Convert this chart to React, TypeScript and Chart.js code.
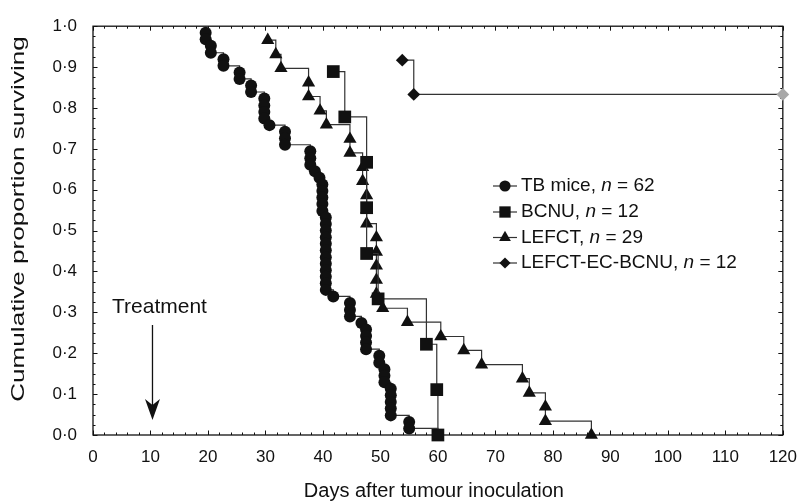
import React, { useEffect, useRef } from 'react';
import { Chart, registerables } from 'chart.js';

Chart.register(...registerables);

const FONT = '"Liberation Sans", Arial, Helvetica, sans-serif';

// ---------- data ----------
const xMin = 0;
const xMax = 120;
const xStep = 10;
const yMin = 0;
const yMax = 1;
const yStep = 0.1;

const xTitle = 'Days after tumour inoculation';
const yTitle = 'Cumulative proportion surviving';
const treatmentLabel = 'Treatment';
const treatmentDay = 10;

const tbDays = [
  19.6, 19.6, 20.5, 20.5, 22.7, 22.7, 25.5, 25.5, 27.5, 27.5,
  29.8, 29.8, 29.8, 29.8, 30.7, 33.4, 33.4, 33.4, 37.8, 37.8,
  37.8, 38.6, 39.4, 39.9, 39.9, 39.9, 39.9, 39.9, 40.5, 40.5,
  40.5, 40.5, 40.5, 40.5, 40.5, 40.5, 40.5, 40.5, 40.5, 40.5,
  41.8, 44.7, 44.7, 44.7, 46.7, 47.5, 47.5, 47.5, 47.5, 49.8,
  49.8, 50.7, 50.7, 50.7, 51.8, 51.8, 51.8, 51.8, 51.8, 55.0,
  55.0, 60.0,
];
const tbSurv = [
  0.984, 0.968, 0.952, 0.935, 0.919, 0.903, 0.887, 0.871, 0.855, 0.839,
  0.823, 0.806, 0.790, 0.774, 0.758, 0.742, 0.726, 0.710, 0.694, 0.677,
  0.661, 0.645, 0.629, 0.613, 0.597, 0.581, 0.565, 0.548, 0.532, 0.516,
  0.500, 0.484, 0.468, 0.452, 0.435, 0.419, 0.403, 0.387, 0.371, 0.355,
  0.339, 0.323, 0.306, 0.290, 0.274, 0.258, 0.242, 0.226, 0.210, 0.194,
  0.177, 0.161, 0.145, 0.129, 0.113, 0.097, 0.081, 0.065, 0.048, 0.032,
  0.016, 0.0,
];

const bcnuDays = [41.8, 43.8, 47.6, 47.6, 47.6, 49.6, 58.0, 59.8, 60.0];
const bcnuSurv = [0.889, 0.778, 0.667, 0.556, 0.444, 0.333, 0.222, 0.111, 0.0];

const lefctDays = [
  30.4, 31.8, 32.7, 37.5, 37.5, 39.5, 40.6, 44.7, 44.7, 46.9,
  46.9, 47.6, 47.6, 47.6, 49.3, 49.3, 49.3, 49.3, 49.3, 50.4,
  54.7, 60.5, 64.5, 67.6, 74.7, 75.9, 78.7, 78.7, 86.7,
];
const lefctSurv = [
  0.966, 0.931, 0.897, 0.862, 0.828, 0.793, 0.759, 0.724, 0.690, 0.655,
  0.621, 0.586, 0.552, 0.517, 0.483, 0.448, 0.414, 0.379, 0.345, 0.310,
  0.276, 0.241, 0.207, 0.172, 0.138, 0.103, 0.069, 0.034, 0.0,
];

const ecDays = [53.8, 55.8, 120];
const ecSurv = [0.917, 0.833, 0.833];
const ecCensored = [false, false, true];

const seriesNames = ['TB mice', 'BCNU', 'LEFCT', 'LEFCT-EC-BCNU'];
const seriesN = [62, 12, 29, 12];
const seriesShapes = ['circle', 'rect', 'triangle', 'rectRot'];
const seriesRadius = [6, 9, 7.6, 6.4];

// ---------- helpers ----------
const MARK = '#111111';
const LINE = '#333333';
const CENSOR = '#a8a8a8';

function toPoints(days: number[], surv: number[]) {
  return days.map((d, i) => ({ x: d, y: surv[i] }));
}

function drawMarker(ctx: CanvasRenderingContext2D, shape: string, x: number, y: number, r: number) {
  ctx.beginPath();
  if (shape === 'circle') {
    ctx.arc(x, y, r, 0, Math.PI * 2);
  } else if (shape === 'rect') {
    const s = r * Math.SQRT1_2;
    ctx.rect(x - s, y - s, 2 * s, 2 * s);
  } else if (shape === 'triangle') {
    ctx.moveTo(x, y - r);
    ctx.lineTo(x + 0.866 * r, y + 0.5 * r);
    ctx.lineTo(x - 0.866 * r, y + 0.5 * r);
    ctx.closePath();
  } else {
    ctx.moveTo(x - r, y);
    ctx.lineTo(x, y - r);
    ctx.lineTo(x + r, y);
    ctx.lineTo(x, y + r);
    ctx.closePath();
  }
  ctx.fill();
}

const framePlugin = {
  id: 'frameTicks',
  beforeDatasetsDraw(chart: any) {
    const ctx: CanvasRenderingContext2D = chart.ctx;
    const { left, right, top, bottom } = chart.chartArea;
    const xs = chart.scales.x;
    const ys = chart.scales.y;
    ctx.save();
    ctx.strokeStyle = '#111';
    ctx.lineWidth = 1.3;
    ctx.strokeRect(left, top, right - left, bottom - top);
    ctx.lineWidth = 1;
    ctx.beginPath();
    for (let d = xMin; d <= xMax + 1e-9; d += 2) {
      const px = Math.round(xs.getPixelForValue(d)) + 0.5;
      const len = Math.abs(d % 10) < 1e-9 ? 4.5 : 2.5;
      ctx.moveTo(px, bottom);
      ctx.lineTo(px, bottom - len);
      ctx.moveTo(px, top);
      ctx.lineTo(px, top + len);
    }
    for (let k = 0; k <= 40; k++) {
      const v = k * 0.025;
      const py = Math.round(ys.getPixelForValue(v)) + 0.5;
      const len = k % 4 === 0 ? 4.5 : 2.5;
      ctx.moveTo(left, py);
      ctx.lineTo(left + len, py);
      ctx.moveTo(right, py);
      ctx.lineTo(right - len, py);
    }
    ctx.stroke();
    ctx.restore();
  },
  afterDatasetsDraw(chart: any) {
    const ctx: CanvasRenderingContext2D = chart.ctx;
    const xs = chart.scales.x;
    const { left, right } = chart.chartArea;
    ctx.save();

    // Legend
    const lx = 505;
    const textX = 521;
    const rowY = [186, 212, 237.5, 263];
    ctx.textBaseline = 'middle';
    ctx.textAlign = 'left';
    for (let i = 0; i < seriesNames.length; i++) {
      const y = rowY[i];
      ctx.strokeStyle = LINE;
      ctx.lineWidth = 1.2;
      ctx.beginPath();
      ctx.moveTo(lx - 12, y);
      ctx.lineTo(lx + 12, y);
      ctx.stroke();
      ctx.fillStyle = MARK;
      const lr = seriesShapes[i] === 'rect' ? 8 : seriesShapes[i] === 'triangle' ? 6.8 : 5.6;
      drawMarker(ctx, seriesShapes[i], lx, y, lr);
      ctx.fillStyle = '#111';
      let x = textX;
      const part1 = `${seriesNames[i]}, `;
      ctx.font = `19px ${FONT}`;
      ctx.fillText(part1, x, y);
      x += ctx.measureText(part1).width;
      ctx.font = `italic 19px ${FONT}`;
      ctx.fillText('n', x, y);
      x += ctx.measureText('n').width;
      ctx.font = `19px ${FONT}`;
      ctx.fillText(` = ${seriesN[i]}`, x, y);
    }

    // Treatment annotation
    const ax = xs.getPixelForValue(treatmentDay) + 2;
    ctx.font = `21px ${FONT}`;
    ctx.textAlign = 'left';
    ctx.textBaseline = 'alphabetic';
    ctx.fillStyle = '#111';
    ctx.fillText(treatmentLabel, 112, 313);
    ctx.strokeStyle = '#111';
    ctx.lineWidth = 1.3;
    ctx.beginPath();
    ctx.moveTo(ax, 325);
    ctx.lineTo(ax, 410);
    ctx.stroke();
    ctx.beginPath();
    ctx.moveTo(ax, 420);
    ctx.lineTo(ax - 7.5, 399);
    ctx.lineTo(ax, 405);
    ctx.lineTo(ax + 7.5, 399);
    ctx.closePath();
    ctx.fill();

    // Axis titles
    ctx.fillStyle = '#111';
    ctx.textAlign = 'center';
    ctx.textBaseline = 'middle';
    ctx.font = `20px ${FONT}`;
    ctx.fillText(xTitle, (left + right) / 2 - 4, 491);
    ctx.save();
    ctx.translate(19, 219);
    ctx.rotate(-Math.PI / 2);
    ctx.scale(1.45, 1);
    ctx.font = `18px ${FONT}`;
    ctx.fillText(yTitle, 0, 0);
    ctx.restore();

    ctx.restore();
  },
};

export default function App() {
  const ref = useRef<HTMLCanvasElement | null>(null);
  useEffect(() => {
    if (!ref.current) return;
    const common = {
      borderColor: LINE,
      borderWidth: 1.2,
      stepped: 'before' as const,
      fill: false,
      pointBorderWidth: 0,
      pointHoverRadius: 0,
      clip: false as const,
      tension: 0,
    };
    const chart = new Chart(ref.current, {
      type: 'line',
      data: {
        datasets: [
          {
            ...common,
            label: seriesNames[0],
            data: toPoints(tbDays, tbSurv),
            pointStyle: seriesShapes[0] as any,
            pointRadius: seriesRadius[0],
            pointBackgroundColor: MARK,
            pointBorderColor: MARK,
          },
          {
            ...common,
            label: seriesNames[1],
            data: toPoints(bcnuDays, bcnuSurv),
            pointStyle: seriesShapes[1] as any,
            pointRadius: seriesRadius[1],
            pointBackgroundColor: MARK,
            pointBorderColor: MARK,
          },
          {
            ...common,
            label: seriesNames[2],
            data: toPoints(lefctDays, lefctSurv),
            pointStyle: seriesShapes[2] as any,
            pointRadius: seriesRadius[2],
            pointBackgroundColor: MARK,
            pointBorderColor: MARK,
          },
          {
            ...common,
            label: seriesNames[3],
            data: toPoints(ecDays, ecSurv),
            pointStyle: seriesShapes[3] as any,
            pointRadius: seriesRadius[3],
            pointBackgroundColor: ecCensored.map((c) => (c ? CENSOR : MARK)),
            pointBorderColor: ecCensored.map((c) => (c ? CENSOR : MARK)),
          },
        ],
      },
      options: {
        responsive: false,
        animation: false,
        events: [],
        layout: { padding: { top: 23, right: 17, left: 0, bottom: 0 } },
        plugins: {
          legend: { display: false },
          tooltip: { enabled: false },
          title: { display: false },
        },
        scales: {
          x: {
            type: 'linear',
            min: xMin,
            max: xMax,
            grid: { display: false, drawTicks: false },
            border: { display: false },
            ticks: {
              stepSize: xStep,
              padding: 12,
              color: '#111',
              font: { family: FONT, size: 17 },
              maxRotation: 0,
              autoSkip: false,
            },
            afterFit: (s: any) => {
              s.height = 67;
            },
          },
          y: {
            type: 'linear',
            min: yMin,
            max: yMax,
            grid: { display: false, drawTicks: false },
            border: { display: false },
            ticks: {
              stepSize: yStep,
              padding: 16,
              color: '#111',
              font: { family: FONT, size: 17 },
              callback: (v: any) => Number(v).toFixed(1).replace('.', '\u00B7'),
            },
            afterFit: (s: any) => {
              s.width = 93;
            },
          },
        },
      },
      plugins: [framePlugin],
    });
    return () => chart.destroy();
  }, []);
  return (
    <div style={{ position: 'absolute', left: 0, top: 0, width: 809, height: 502, background: '#fff' }}>
      <canvas ref={ref} width={809} height={502} style={{ display: 'block' }} />
    </div>
  );
}
